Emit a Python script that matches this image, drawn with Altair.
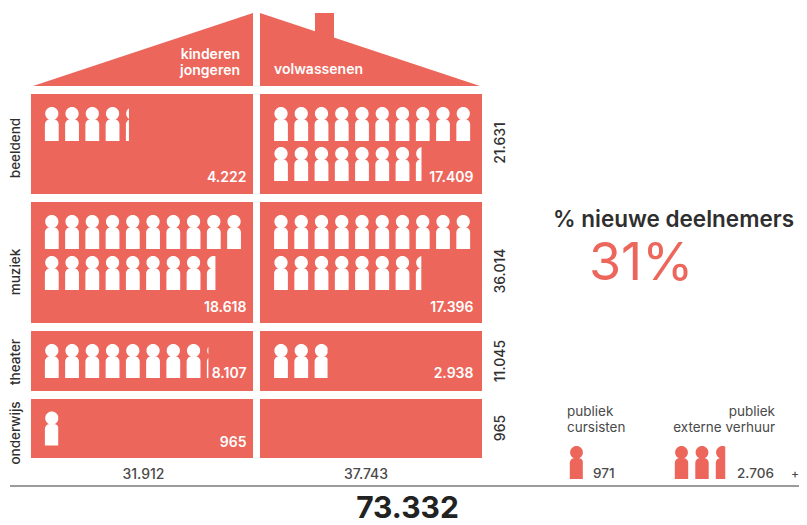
import math
import altair as alt
import pandas as pd

# ---- values ----
categories = ["beeldend", "muziek", "theater", "onderwijs"]
kinderen_values = [4222, 18618, 8107, 965]
volwassenen_values = [17409, 17396, 2938, 0]
kinderen_labels = ["4.222", "18.618", "8.107", "965"]
volwassenen_labels = ["17.409", "17.396", "2.938", ""]
row_totals = ["21.631", "36.014", "11.045", "965"]
column_totals = ["31.912", "37.743"]
grand_total = "73.332"
new_share = "31%"
publiek_values = [971, 2706]
publiek_labels = ["971", "2.706"]

RED = "#EC665B"
DARK = "#2f2f2f"
GREY = "#4a4a4a"
FONT = "Inter"
UNIT = 1000      # one figure = 1000 participants
PER_ROW = 10

# ---- layout of the house (page pixels) ----
col_left = [31, 260]
col_right = [253, 482]
row_top = [94, 202, 331, 399]
row_bottom = [194, 323, 391, 458]
figure_x0 = [51.8, 281]
figure_step = 20.25
figure_rows = [[124, 164], [232, 273], [361], [428.5]]
number_right = [246.5, 473.5]
number_base = [182, 312, 378, 447]
side_mid_left = [148, 272, 362, 433]
side_mid_right = [143, 271, 361, 428]


def person_path(f):
    """Person glyph in the unit box used by custom Vega symbols, cut to fraction f of its width."""
    hw, r = 6.9 / 17, 6.6 / 17
    cy = -1 + r
    top, bottom = -0.27, 1.0
    rc = 5.0 / 17
    xmax = -hw + 2 * hw * min(f, 1.0)
    head = [(r * math.cos(2 * math.pi * i / 40), cy + r * math.sin(2 * math.pi * i / 40)) for i in range(40)]
    body = [(-hw, bottom), (-hw, top + rc)]
    body += [(-hw + rc - rc * math.cos(math.pi / 2 * i / 8), top + rc - rc * math.sin(math.pi / 2 * i / 8)) for i in range(1, 9)]
    body += [(hw - rc + rc * math.sin(math.pi / 2 * i / 8), top + rc - rc * math.cos(math.pi / 2 * i / 8)) for i in range(0, 9)]
    body += [(hw, bottom)]
    def sub(pts):
        pts = [(min(x, xmax), y) for x, y in pts]
        return "M" + "L".join(f"{x:.3f},{y:.3f}" for x, y in pts) + "Z"
    return sub(head) + sub(body)


def figures(value, x0, rows, step):
    out = []
    amount = value / UNIT
    i = 0
    while amount > 0:
        f = min(amount, 1.0)
        out.append({"x": x0 + (i % PER_ROW) * step, "y": rows[i // PER_ROW], "shape": person_path(f)})
        amount -= f
        i += 1
    return out


X = alt.Scale(domain=[8, 799], zero=False, nice=False)
Y = alt.Scale(domain=[525, 8], zero=False, nice=False)
xq = alt.X("x:Q", scale=X, axis=None)
yq = alt.Y("y:Q", scale=Y, axis=None)

# panels
panels = []
for r in range(4):
    for c in range(2):
        panels.append({"x": col_left[c], "x2": col_right[c], "y": row_top[r], "y2": row_bottom[r]})
panels.append({"x": 315, "x2": 334, "y": 13, "y2": 40})  # chimney
panel_layer = alt.Chart(pd.DataFrame(panels)).mark_rect(color=RED).encode(xq, alt.X2("x2:Q"), yq, alt.Y2("y2:Q"))

# roof
roof_l = pd.DataFrame({"x": [33, 253], "y": [86, 13], "y2": [86, 86]})
roof_r = pd.DataFrame({"x": [260, 480], "y": [13, 86], "y2": [86, 86]})
roof = [alt.Chart(d).mark_area(color=RED, opacity=1, interpolate="linear").encode(xq, yq, alt.Y2("y2:Q")) for d in (roof_l, roof_r)]

# figures in the house
white = []
for r in range(4):
    white += figures(kinderen_values[r], figure_x0[0], figure_rows[r], figure_step)
    if volwassenen_values[r]:
        white += figures(volwassenen_values[r], figure_x0[1], figure_rows[r], figure_step)
shape_enc = alt.Shape("shape:N", scale=None, legend=None)
white_layer = alt.Chart(pd.DataFrame(white)).mark_point(filled=True, opacity=1, color="#FFFFFF", strokeWidth=0, size=1156).encode(xq, yq, shape_enc)

# legend figures
red = figures(publiek_values[0], 576.5, [462.5], figure_step) + figures(publiek_values[1], 681.5, [462.5], 20.5)
red_layer = alt.Chart(pd.DataFrame(red)).mark_point(filled=True, opacity=1, color=RED, strokeWidth=0, size=1089).encode(xq, yq, shape_enc)

# rule
rule = alt.Chart(pd.DataFrame({"x": [10], "x2": [799], "y": [486]})).mark_rule(color="#7a7a7a", strokeWidth=1.5).encode(xq, alt.X2("x2:Q"), yq)


def text_layer(rows, **kw):
    d = pd.DataFrame(rows, columns=["x", "y", "t"])
    base = dict(font=FONT, baseline="alphabetic")
    base.update(kw)
    return alt.Chart(d).mark_text(**base).encode(xq, yq, text="t:N")


panel_numbers = []
for r in range(4):
    panel_numbers.append((number_right[0], number_base[r], kinderen_labels[r]))
    if volwassenen_labels[r]:
        panel_numbers.append((number_right[1], number_base[r], volwassenen_labels[r]))

texts = [
    text_layer(panel_numbers, align="right", color="#FFFFFF", fontSize=14, fontWeight=600),
    text_layer([(240, 59, "kinderen"), (240, 75, "jongeren")], align="right", color="#FFFFFF", fontSize=14, fontWeight=600),
    text_layer([(274, 74, "volwassenen")], align="left", color="#FFFFFF", fontSize=14, fontWeight=600),
    text_layer([(15.5, side_mid_left[i], categories[i]) for i in range(4)], align="center", baseline="middle", angle=270, color=DARK, fontSize=13.5, fontWeight=500),
    text_layer([(501, side_mid_right[i], row_totals[i]) for i in range(4)], align="center", baseline="middle", angle=270, color=DARK, fontSize=14, fontWeight=500),
    text_layer([(143.5, 479, column_totals[0]), (366, 479, column_totals[1])], align="center", color=GREY, fontSize=14, fontWeight=500),
    text_layer([(407.5, 518, grand_total)], align="center", color="#222222", fontSize=30, fontWeight=700),
    text_layer([(553, 227, "% nieuwe deelnemers")], align="left", color=DARK, fontSize=22.5, fontWeight=600),
    text_layer([(589, 280, new_share)], align="left", color=RED, fontSize=52, fontWeight=400),
    text_layer([(567, 416, "publiek"), (567, 432, "cursisten")], align="left", color=GREY, fontSize=13.5, fontWeight=400),
    text_layer([(775, 416, "publiek"), (775, 432, "externe verhuur")], align="right", color=GREY, fontSize=13.5, fontWeight=400),
    text_layer([(593, 478, publiek_labels[0]), (737, 478, publiek_labels[1])], align="left", color=GREY, fontSize=13.5, fontWeight=500),
    text_layer([(791, 478, "+")], align="left", color=GREY, fontSize=12, fontWeight=500),
]

chart = alt.layer(panel_layer, *roof, white_layer, red_layer, rule, *texts).properties(
    width=791, height=517, padding=0,
    autosize=alt.AutoSizeParams(type="none"),
    background="#FFFFFF",
).configure_view(stroke=None)

chart.save("out.html", embed_options={"renderer": "svg", "actions": False})
